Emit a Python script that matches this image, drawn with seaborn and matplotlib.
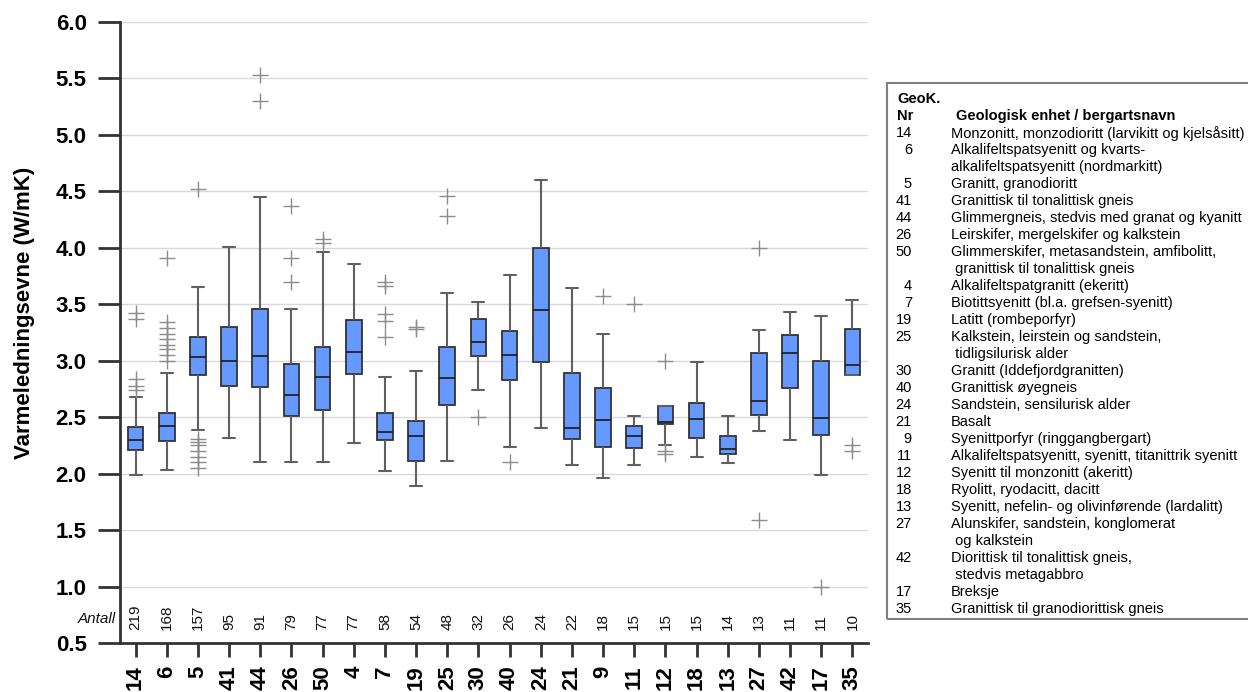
import numpy as np
import pandas as pd
import matplotlib
matplotlib.use("Agg")
import matplotlib.pyplot as plt
import matplotlib.transforms as mtransforms
from matplotlib.patches import Rectangle
import seaborn as sns

# ---------------- data ----------------
CATEGORIES = ["14", "6", "5", "41", "44", "26", "50", "4", "7", "19", "25", "30",
              "40", "24", "21", "9", "11", "12", "18", "13", "27", "42", "17", "35"]
COUNTS = [219, 168, 157, 95, 91, 79, 77, 77, 58, 54, 48, 32,
          26, 24, 22, 18, 15, 15, 15, 14, 13, 11, 11, 10]
WHIS_LO = [1.99, 2.035, 2.385, 2.32, 2.10, 2.10, 2.10, 2.27, 2.02, 1.89, 2.11, 2.745,
           2.24, 2.40, 2.08, 1.965, 2.075, 2.25, 2.15, 2.095, 2.38, 2.30, 1.99, 2.875]
Q1 = [2.21, 2.29, 2.87, 2.78, 2.77, 2.51, 2.56, 2.885, 2.30, 2.11, 2.61, 3.04,
      2.83, 2.99, 2.31, 2.24, 2.23, 2.44, 2.32, 2.174, 2.52, 2.76, 2.345, 2.875]
MEDIAN = [2.30, 2.42, 3.03, 3.00, 3.045, 2.70, 2.86, 3.08, 2.37, 2.33, 2.85, 3.17,
          3.055, 3.45, 2.40, 2.475, 2.33, 2.457, 2.48, 2.218, 2.64, 3.07, 2.49, 2.96]
Q3 = [2.415, 2.54, 3.21, 3.30, 3.46, 2.97, 3.125, 3.36, 2.54, 2.47, 3.12, 3.37,
      3.26, 4.00, 2.89, 2.76, 2.42, 2.595, 2.63, 2.336, 3.07, 3.23, 3.00, 3.28]
WHIS_HI = [2.68, 2.89, 3.65, 4.01, 4.45, 3.46, 3.96, 3.86, 2.86, 2.91, 3.60, 3.52,
           3.76, 4.60, 3.64, 3.24, 2.51, 2.595, 2.99, 2.513, 3.27, 3.43, 3.40, 3.54]
OUTLIERS = [
    [2.74, 2.78, 2.84, 3.37, 3.42],
    [3.00, 3.05, 3.10, 3.14, 3.19, 3.24, 3.29, 3.34, 3.91],
    [2.05, 2.10, 2.15, 2.20, 2.25, 2.28, 2.31, 4.52],
    [],
    [5.30, 5.53],
    [3.70, 3.91, 4.37],
    [4.04, 4.08],
    [],
    [3.21, 3.35, 3.41, 3.66, 3.70],
    [3.28, 3.30],
    [4.28, 4.46],
    [2.50],
    [2.10],
    [],
    [],
    [3.57],
    [3.50],
    [2.17, 2.20, 3.00],
    [],
    [],
    [1.59, 4.00],
    [],
    [1.00],
    [2.197, 2.257],
]
Y_TICKS = [0.5, 1.0, 1.5, 2.0, 2.5, 3.0, 3.5, 4.0, 4.5, 5.0, 5.5, 6.0]
Y_LABEL = "Varmeledningsevne (W/mK)"
COUNT_LABEL = "Antall"
LEGEND_HEAD = ["GeoK.", "Nr"]
LEGEND_COLUMN = "Geologisk enhet / bergartsnavn"
DESCRIPTIONS = [
    "Monzonitt, monzodioritt (larvikitt og kjelsåsitt)",
    "Alkalifeltspatsyenitt og kvarts-\nalkalifeltspatsyenitt (nordmarkitt)",
    "Granitt, granodioritt",
    "Granittisk til tonalittisk gneis",
    "Glimmergneis, stedvis med granat og kyanitt",
    "Leirskifer, mergelskifer og kalkstein",
    "Glimmerskifer, metasandstein, amfibolitt,\n granittisk til tonalittisk gneis",
    "Alkalifeltspatgranitt (ekeritt)",
    "Biotittsyenitt (bl.a. grefsen-syenitt)",
    "Latitt (rombeporfyr)",
    "Kalkstein, leirstein og sandstein,\n tidligsilurisk alder",
    "Granitt (Iddefjordgranitten)",
    "Granittisk øyegneis",
    "Sandstein, sensilurisk alder",
    "Basalt",
    "Syenittporfyr (ringgangbergart)",
    "Alkalifeltspatsyenitt, syenitt, titanittrik syenitt",
    "Syenitt til monzonitt (akeritt)",
    "Ryolitt, ryodacitt, dacitt",
    "Syenitt, nefelin- og olivinførende (lardalitt)",
    "Alunskifer, sandstein, konglomerat\n og kalkstein",
    "Diorittisk til tonalittisk gneis,\n stedvis metagabbro",
    "Breksje",
    "Granittisk til granodiorittisk gneis",
]

# Long-form table whose box statistics equal the summaries above
K = 100
rows = []
for cat, lo, a, m, b, hi, outs in zip(CATEGORIES, WHIS_LO, Q1, MEDIAN, Q3, WHIS_HI, OUTLIERS):
    vals = list(outs) + [lo] + [a] * K + [m] * K + [b] * K + [hi]
    rows.extend((cat, v) for v in vals)
df = pd.DataFrame(rows, columns=["nr", "lam"])

# ---------------- styling ----------------
sns.set_theme(style="white")
plt.rcParams["font.family"] = ["Liberation Sans", "DejaVu Sans"]
plt.rcParams["text.color"] = "black"
plt.rcParams["axes.labelcolor"] = "black"
plt.rcParams["xtick.color"] = "black"
plt.rcParams["ytick.color"] = "black"

W, H = 1248, 692
fig = plt.figure(figsize=(W / 100, H / 100), dpi=100)
ax = fig.add_axes([120 / W, 1 - 643 / H, 748 / W, 621 / H])

DARK = "#333333"
sns.boxplot(
    data=df, x="nr", y="lam", order=CATEGORIES, ax=ax,
    width=0.5, saturation=1, color="#6699FF", linecolor=DARK, linewidth=1.3,
    whis=1.5,
    flierprops=dict(marker="+", markersize=11, markeredgecolor="#8c8c8c",
                    markeredgewidth=1.0),
    whiskerprops=dict(color="#606060", linewidth=1.5),
    capprops=dict(color="#606060", linewidth=1.5),
    medianprops=dict(color="#222222", linewidth=1.3),
    capwidths=0.38,
)

ax.set_xlim(-0.5, len(CATEGORIES) - 0.5)
ax.set_ylim(0.5, 6.0)
ax.set_yticks(Y_TICKS)
ax.set_yticklabels([f"{t:.1f}" for t in Y_TICKS], fontsize=16, fontweight="bold")
ax.set_xticks(range(len(CATEGORIES)))
ax.set_xticklabels(CATEGORIES, fontsize=16, fontweight="bold", rotation=90)
ax.tick_params(axis="y", length=16, width=2, pad=8, color=DARK, labelcolor="black", left=True)
ax.tick_params(axis="x", length=10, width=2, pad=6, color=DARK, labelcolor="black", bottom=True)
ax.set_xlabel("")
ax.set_ylabel(Y_LABEL, fontsize=16, fontweight="bold", color="black")
ax.yaxis.set_label_coords(-0.114, 0.532)

ax.yaxis.grid(True, color="#d9d9d9", linewidth=1)
ax.xaxis.grid(False)
ax.set_axisbelow(True)
for side in ["top", "right"]:
    ax.spines[side].set_visible(False)
for side in ["left", "bottom"]:
    ax.spines[side].set_color(DARK)
    ax.spines[side].set_linewidth(2)

# count labels
trans = mtransforms.blended_transform_factory(ax.transAxes, ax.transData)
ax.text(-0.006, 0.71, COUNT_LABEL, transform=trans, ha="right", va="center",
        fontsize=11, style="italic", color="#111111", clip_on=False)
for i, n in enumerate(COUNTS):
    ax.text(i, 0.615, str(n), rotation=90, ha="center", va="bottom",
            fontsize=11, color="#111111")

# ---------------- legend box ----------------
def fx(px):
    return px / W

def fy(py):
    return 1 - py / H

fig.patches.append(Rectangle((fx(886.7), fy(619)), fx(W - 886.7) + 0.01, (619 - 82.7) / H,
                             transform=fig.transFigure, fill=False,
                             edgecolor="#7f7f7f", linewidth=1.5))
LS = 16.98
y0 = 99.3
FS = 10.5
fig.text(fx(897), fy(y0), LEGEND_HEAD[0], fontsize=FS, fontweight="bold", va="center", ha="left")
fig.text(fx(897), fy(y0 + LS), LEGEND_HEAD[1], fontsize=FS, fontweight="bold", va="center", ha="left")
fig.text(fx(955.7), fy(y0 + LS), LEGEND_COLUMN, fontsize=FS, fontweight="bold", va="center", ha="left")
line = 2
for cat, desc in zip(CATEGORIES, DESCRIPTIONS):
    fig.text(fx(912), fy(y0 + line * LS), cat, fontsize=FS, va="center", ha="right")
    for part in desc.split("\n"):
        fig.text(fx(950.7), fy(y0 + line * LS), part, fontsize=FS, va="center", ha="left")
        line += 1

fig.savefig("out.png", dpi=100)
